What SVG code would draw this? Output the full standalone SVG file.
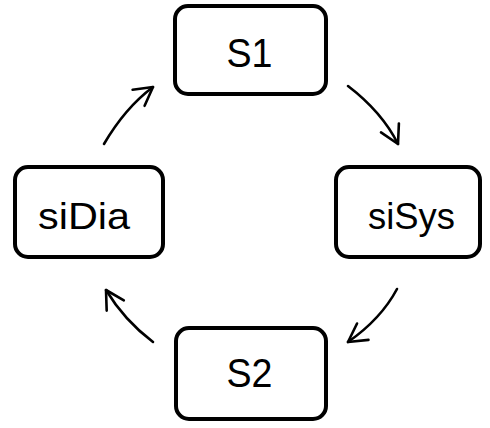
<svg xmlns="http://www.w3.org/2000/svg" width="490" height="428" viewBox="0 0 490 428">
  <style>
    .box { fill: #ffffff; stroke: #000000; stroke-width: 4; }
    .label { font-family: "Liberation Sans", Arial, sans-serif; fill: #000000; text-anchor: middle; }
    .state { font-size: 41px; }
    .si { font-size: 37.5px; }
    .arc { fill: none; stroke: #000000; stroke-width: 2.6; stroke-linecap: round; marker-end: url(#head); }
  </style>
  <defs>
    <marker id="head" markerUnits="userSpaceOnUse" viewBox="-22 -13 26 26" refX="0" refY="0" markerWidth="26" markerHeight="26" orient="auto">
      <path d="M-18,-10 L0,0 L-18,10" fill="none" stroke="#000000" stroke-width="2.6" stroke-linecap="round" stroke-linejoin="round"/>
    </marker>
  </defs>
  <rect width="490" height="428" fill="#ffffff"/>

  <g id="S1">
    <rect class="box" x="175" y="6" width="151" height="88" rx="13"/>
    <text class="label state" x="249.5" y="67" textLength="46" lengthAdjust="spacingAndGlyphs">S1</text>
  </g>
  <g id="siSys">
    <rect class="box" x="336" y="167" width="144" height="90" rx="13"/>
    <text class="label si" x="411.5" y="229" textLength="87" lengthAdjust="spacingAndGlyphs">siSys</text>
  </g>
  <g id="S2">
    <rect class="box" x="176" y="328" width="150" height="91" rx="13"/>
    <text class="label state" x="249.5" y="387" textLength="46" lengthAdjust="spacingAndGlyphs">S2</text>
  </g>
  <g id="siDia">
    <rect class="box" x="15" y="167" width="148" height="90" rx="13"/>
    <text class="label si" x="84" y="229" textLength="92" lengthAdjust="spacingAndGlyphs">siDia</text>
  </g>

  <g id="connectors">
    <path class="arc" d="M348,86 Q382,112 398,144"/>
    <path class="arc" d="M397,289 Q381,319 348,342"/>
    <path class="arc" d="M153,342 Q124,320 106,290"/>
    <path class="arc" d="M104,144 Q125,108 153,87"/>
  </g>
</svg>
